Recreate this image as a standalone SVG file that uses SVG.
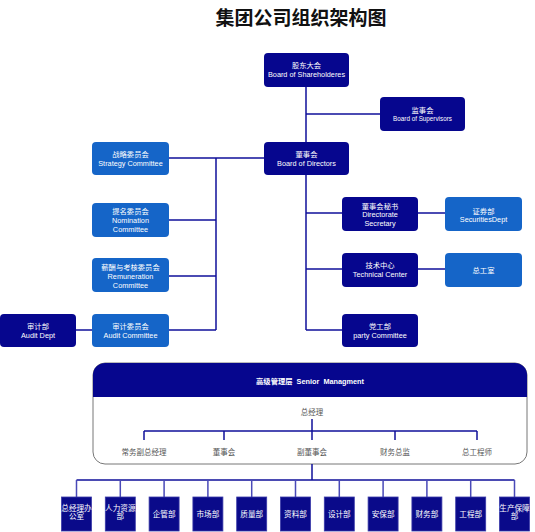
<svg xmlns="http://www.w3.org/2000/svg" width="535" height="532" viewBox="0 0 535 532">
<style>
text{font-family:"Liberation Sans","Noto Sans CJK SC",sans-serif;text-anchor:middle;}
.dk{fill:#06068e;}
.lt{fill:#1565c8;}
.bt{fill:#0a0a8a;stroke:#3a3aa8;stroke-width:0.8;}
.w{fill:#ffffff;font-size:7.3px;}
.wb{fill:#ffffff;font-size:7.6px;}
.g{fill:#555555;font-size:7.5px;}
.ln{stroke:#10109a;stroke-width:1.5;fill:none;}
</style>
<rect width="535" height="532" fill="#ffffff"/>
<text x="301" y="25" style="font-size:19px;font-weight:bold;fill:#111">集团公司组织架构图</text>

<g id="senior-management">
<rect x="93" y="363" width="434" height="101" rx="12" fill="#ffffff" stroke="#777" stroke-width="1"/>
<path d="M93 397V375A12 12 0 0 1 105 363H515A12 12 0 0 1 527 375V397Z" fill="#06068e"/>
<text x="310" y="383.5" xml:space="preserve" style="fill:#fff;font-size:7.3px;font-weight:bold">高级管理层  Senior  Managment</text>
<text class="g" x="312" y="414.5">总经理</text>
<text class="g" x="144" y="454.5">常务副总经理</text>
<text class="g" x="224" y="454.5">董事会</text>
<text class="g" x="312" y="454.5">副董事会</text>
<text class="g" x="395" y="454.5">财务总监</text>
<text class="g" x="477" y="454.5">总工程师</text>
</g>

<g id="connectors">
<path class="ln" d="M306 87V142M306 114H380"/>
<path class="ln" d="M169 158H264M216 158V330M169 220H216M169 276H216M169 330H216M76 330H92"/>
<path class="ln" d="M306 175V330M306 213H342M306 269H342M306 330H342M418 213H445M418 269H445"/>
<path class="ln" d="M312 419V431M144 431H477M144 431V440M224 431V440M312 431V440M395 431V440M477 431V440"/>
<path class="ln" d="M312 464V480M76.5 480H514.5"/>
<path class="ln" style="stroke:#4a4ab8" d="M76.5 480V497M120.3 480V497M164.1 480V497M207.9 480V497M251.7 480V497M295.5 480V497M339.3 480V497M383.1 480V497M426.9 480V497M470.7 480V497M514.5 480V497"/>
</g>

<g id="shareholders"><rect class="dk" x="264" y="53" width="85" height="34" rx="4"/><text class="w" x="306.5" y="67.5">股东大会</text><text class="w" x="306.5" y="77">Board of Shareholderes</text></g>
<g id="supervisors"><rect class="dk" x="380" y="97" width="85" height="34" rx="4"/><text class="w" x="422.5" y="112.5">监事会</text><text class="w" x="422.5" y="121" style="font-size:6.3px">Board of Supervisors</text></g>
<g id="directors"><rect class="dk" x="264" y="142" width="85" height="33" rx="4"/><text class="w" x="306.5" y="156.5">董事会</text><text class="w" x="306.5" y="165.5">Board of Directors</text></g>
<g id="strategy"><rect class="lt" x="92" y="142" width="77" height="33" rx="4"/><text class="w" x="130.5" y="156.5">战略委员会</text><text class="w" x="130.5" y="165.5">Strategy Committee</text></g>
<g id="nomination"><rect class="lt" x="92" y="203" width="77" height="34" rx="4"/><text class="w" x="130.5" y="213.5">提名委员会</text><text class="w" x="130.5" y="222.5">Nomination</text><text class="w" x="130.5" y="231.5">Committee</text></g>
<g id="remuneration"><rect class="lt" x="92" y="258" width="77" height="34" rx="4"/><text class="w" x="130.5" y="269.5">薪酬与考核委员会</text><text class="w" x="130.5" y="278.5">Remuneration</text><text class="w" x="130.5" y="287.5">Committee</text></g>
<g id="audit-committee"><rect class="lt" x="92" y="314" width="77" height="33" rx="4"/><text class="w" x="130.5" y="328.5">审计委员会</text><text class="w" x="130.5" y="337.5">Audit Committee</text></g>
<g id="audit-dept"><rect class="dk" x="0" y="314" width="76" height="33" rx="4"/><text class="w" x="38" y="328.5">审计部</text><text class="w" x="38" y="337.5">Audit Dept</text></g>
<g id="secretary"><rect class="dk" x="342" y="197" width="76" height="34" rx="4"/><text class="w" x="380" y="208.5">董事会秘书</text><text class="w" x="380" y="216.5">Directorate</text><text class="w" x="380" y="225.5">Secretary</text></g>
<g id="technical"><rect class="dk" x="342" y="253" width="76" height="34" rx="4"/><text class="w" x="380" y="267.5">技术中心</text><text class="w" x="380" y="276.5">Technical Center</text></g>
<g id="party"><rect class="dk" x="342" y="314" width="76" height="33" rx="4"/><text class="w" x="380" y="328.5">党工部</text><text class="w" x="380" y="337.5">party Committee</text></g>
<g id="securities"><rect class="lt" x="445" y="197" width="77" height="34" rx="4"/><text class="w" x="483.5" y="213.5">证券部</text><text class="w" x="483.5" y="221.5">SecuritiesDept</text></g>
<g id="chief-engineer-office"><rect class="lt" x="445" y="253" width="77" height="34" rx="4"/><text class="w" x="483.5" y="272.5">总工室</text></g>

<g id="dept-1"><rect class="bt" x="61.5" y="497" width="30" height="34"/><text class="wb" x="76.5" y="511">总经理办</text><text class="wb" x="76.5" y="519">公室</text></g>
<g id="dept-2"><rect class="bt" x="105.3" y="497" width="30" height="34"/><text class="wb" x="120.3" y="511">人力资源</text><text class="wb" x="120.3" y="519">部</text></g>
<g id="dept-3"><rect class="bt" x="149.1" y="497" width="30" height="34"/><text class="wb" x="164.1" y="517">企管部</text></g>
<g id="dept-4"><rect class="bt" x="192.9" y="497" width="30" height="34"/><text class="wb" x="207.9" y="517">市场部</text></g>
<g id="dept-5"><rect class="bt" x="236.7" y="497" width="30" height="34"/><text class="wb" x="251.7" y="517">质量部</text></g>
<g id="dept-6"><rect class="bt" x="280.5" y="497" width="30" height="34"/><text class="wb" x="295.5" y="517">资料部</text></g>
<g id="dept-7"><rect class="bt" x="324.3" y="497" width="30" height="34"/><text class="wb" x="339.3" y="517">设计部</text></g>
<g id="dept-8"><rect class="bt" x="368.1" y="497" width="30" height="34"/><text class="wb" x="383.1" y="517">安保部</text></g>
<g id="dept-9"><rect class="bt" x="411.9" y="497" width="30" height="34"/><text class="wb" x="426.9" y="517">财务部</text></g>
<g id="dept-10"><rect class="bt" x="455.7" y="497" width="30" height="34"/><text class="wb" x="470.7" y="517">工程部</text></g>
<g id="dept-11"><rect class="bt" x="499.5" y="497" width="30" height="34"/><text class="wb" x="514.5" y="511">生产保障</text><text class="wb" x="514.5" y="519">部</text></g>
</svg>
